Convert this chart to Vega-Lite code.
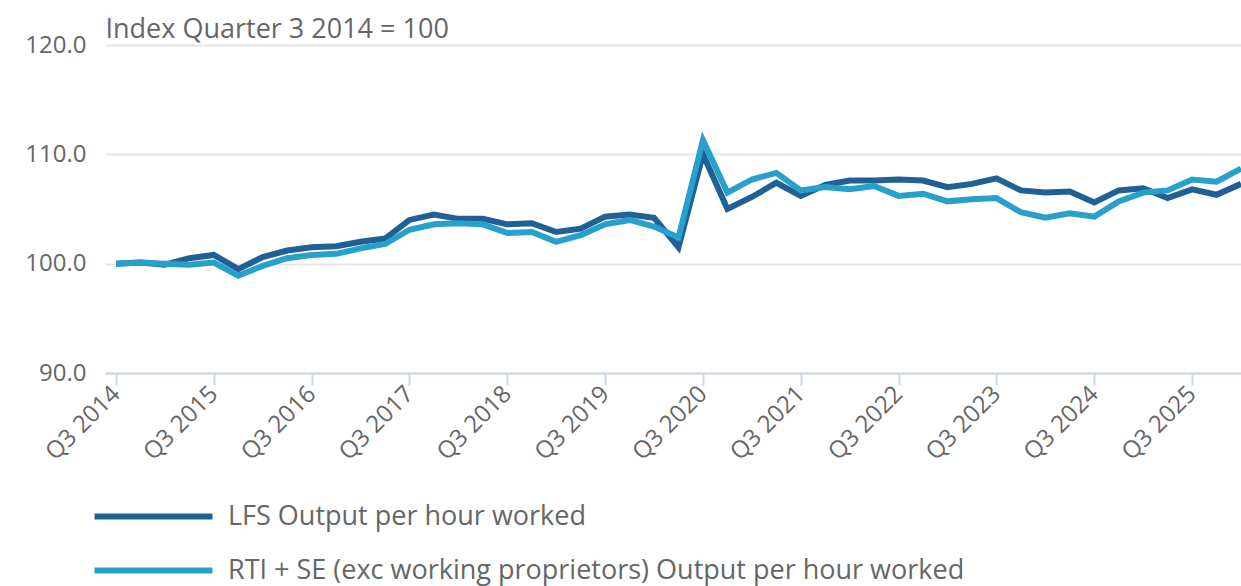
{
  "$schema": "https://vega.github.io/schema/vega-lite/v6.json",
  "autosize": "none",
  "padding": {"left": 105, "top": 45, "right": 0, "bottom": 213},
  "width": 1147,
  "height": 328,
  "background": "white",
  "config": {"view": {"stroke": null}, "font": "Open Sans"},
  "data": {
    "values": [
      {"i": 0, "q": "Q3 2014", "lfs": 100.0, "rti": 100.0},
      {"i": 1, "q": "Q4 2014", "lfs": 100.1, "rti": 100.1},
      {"i": 2, "q": "Q1 2015", "lfs": 99.9, "rti": 100.0},
      {"i": 3, "q": "Q2 2015", "lfs": 100.5, "rti": 99.9},
      {"i": 4, "q": "Q3 2015", "lfs": 100.8, "rti": 100.1},
      {"i": 5, "q": "Q4 2015", "lfs": 99.5, "rti": 98.9},
      {"i": 6, "q": "Q1 2016", "lfs": 100.6, "rti": 99.8},
      {"i": 7, "q": "Q2 2016", "lfs": 101.2, "rti": 100.5},
      {"i": 8, "q": "Q3 2016", "lfs": 101.5, "rti": 100.8},
      {"i": 9, "q": "Q4 2016", "lfs": 101.6, "rti": 100.9},
      {"i": 10, "q": "Q1 2017", "lfs": 102.0, "rti": 101.4},
      {"i": 11, "q": "Q2 2017", "lfs": 102.3, "rti": 101.8},
      {"i": 12, "q": "Q3 2017", "lfs": 104.0, "rti": 103.1},
      {"i": 13, "q": "Q4 2017", "lfs": 104.5, "rti": 103.6},
      {"i": 14, "q": "Q1 2018", "lfs": 104.1, "rti": 103.7},
      {"i": 15, "q": "Q2 2018", "lfs": 104.1, "rti": 103.6},
      {"i": 16, "q": "Q3 2018", "lfs": 103.6, "rti": 102.8},
      {"i": 17, "q": "Q4 2018", "lfs": 103.7, "rti": 102.9},
      {"i": 18, "q": "Q1 2019", "lfs": 102.9, "rti": 102.0},
      {"i": 19, "q": "Q2 2019", "lfs": 103.2, "rti": 102.6},
      {"i": 20, "q": "Q3 2019", "lfs": 104.3, "rti": 103.6},
      {"i": 21, "q": "Q4 2019", "lfs": 104.5, "rti": 104.0},
      {"i": 22, "q": "Q1 2020", "lfs": 104.2, "rti": 103.4},
      {"i": 23, "q": "Q2 2020", "lfs": 101.5, "rti": 102.4},
      {"i": 24, "q": "Q3 2020", "lfs": 110.0, "rti": 111.3},
      {"i": 25, "q": "Q4 2020", "lfs": 105.0, "rti": 106.5},
      {"i": 26, "q": "Q1 2021", "lfs": 106.1, "rti": 107.7},
      {"i": 27, "q": "Q2 2021", "lfs": 107.4, "rti": 108.3},
      {"i": 28, "q": "Q3 2021", "lfs": 106.2, "rti": 106.7},
      {"i": 29, "q": "Q4 2021", "lfs": 107.2, "rti": 107.0},
      {"i": 30, "q": "Q1 2022", "lfs": 107.6, "rti": 106.8},
      {"i": 31, "q": "Q2 2022", "lfs": 107.6, "rti": 107.1},
      {"i": 32, "q": "Q3 2022", "lfs": 107.7, "rti": 106.2},
      {"i": 33, "q": "Q4 2022", "lfs": 107.6, "rti": 106.4},
      {"i": 34, "q": "Q1 2023", "lfs": 107.0, "rti": 105.7},
      {"i": 35, "q": "Q2 2023", "lfs": 107.3, "rti": 105.9},
      {"i": 36, "q": "Q3 2023", "lfs": 107.8, "rti": 106.0},
      {"i": 37, "q": "Q4 2023", "lfs": 106.7, "rti": 104.7},
      {"i": 38, "q": "Q1 2024", "lfs": 106.5, "rti": 104.2},
      {"i": 39, "q": "Q2 2024", "lfs": 106.6, "rti": 104.6},
      {"i": 40, "q": "Q3 2024", "lfs": 105.6, "rti": 104.3},
      {"i": 41, "q": "Q4 2024", "lfs": 106.7, "rti": 105.7},
      {"i": 42, "q": "Q1 2025", "lfs": 106.9, "rti": 106.5},
      {"i": 43, "q": "Q2 2025", "lfs": 106.0, "rti": 106.7},
      {"i": 44, "q": "Q3 2025", "lfs": 106.8, "rti": 107.7},
      {"i": 45, "q": "Q4 2025", "lfs": 106.3, "rti": 107.5},
      {"i": 46, "q": "Q1 2026", "lfs": 107.3, "rti": 108.7}
    ]
  },
  "transform": [
    {"fold": ["lfs", "rti"], "as": ["key", "value"]},
    {"calculate": "datum.key === 'lfs' ? 'LFS Output per hour worked' : 'RTI + SE (exc working proprietors) Output per hour worked'", "as": "series"}
  ],
  "mark": {"type": "line", "strokeWidth": 6, "strokeJoin": "miter", "clip": false},
  "encoding": {
    "x": {
      "field": "q",
      "type": "ordinal",
      "sort": {"field": "i"},
      "scale": {"type": "point", "padding": 0.45},
      "axis": {
        "title": null,
        "values": ["Q3 2014","Q3 2015","Q3 2016","Q3 2017","Q3 2018","Q3 2019","Q3 2020","Q3 2021","Q3 2022","Q3 2023","Q3 2024","Q3 2025"],
        "labelAngle": -45,
        "labelAlign": "right",
        "labelBaseline": "middle",
        "labelFontSize": 24,
        "labelColor": "#666666",
        "labelPadding": 5,
        "domainColor": "#ccd6eb",
        "domainWidth": 2,
        "tickColor": "#ccd6eb",
        "tickWidth": 2,
        "tickSize": 12,
        "grid": false
      }
    },
    "y": {
      "field": "value",
      "type": "quantitative",
      "scale": {"domain": [90, 120], "nice": false, "zero": false},
      "axis": {
        "values": [90, 100, 110, 120],
        "format": ".1f",
        "title": "Index Quarter 3 2014 = 100",
        "titleAngle": 0,
        "titleAlign": "left",
        "titleBaseline": "alphabetic",
        "titleX": 0,
        "titleY": -8,
        "titleFontSize": 27,
        "titleFontWeight": "normal",
        "titleColor": "#666666",
        "labelFontSize": 24,
        "labelColor": "#666666",
        "labelPadding": 19,
        "domain": false,
        "ticks": false,
        "gridColor": "#e6e6e6",
        "gridWidth": 2
      }
    },
    "color": {
      "field": "series",
      "type": "nominal",
      "scale": {
        "domain": ["LFS Output per hour worked", "RTI + SE (exc working proprietors) Output per hour worked"],
        "range": ["#206095", "#27a0cc"]
      },
      "legend": {
        "title": null,
        "orient": "none",
        "legendX": 35,
        "legendY": 458,
        "direction": "vertical",
        "symbolType": "M-10,0H10",
        "symbolSize": 139,
        "symbolStrokeWidth": 6,
        "labelFontSize": 27,
        "labelColor": "#666666",
        "labelOffset": 61,
        "labelLimit": 1000,
        "rowPadding": 26
      }
    }
  }
}
